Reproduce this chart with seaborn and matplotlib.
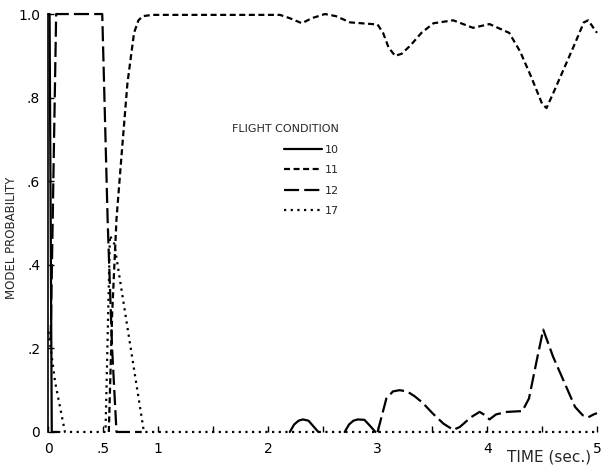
import numpy as np
import pandas as pd
import matplotlib
matplotlib.use("Agg")
import matplotlib.pyplot as plt
import seaborn as sns

# model probability traces (time in sec.)
t10 = [0.0, 0.01, 0.03, 0.1]
p10 = [1.0, 1.0, 0.0, 0.0]
t10_b1 = [2.2, 2.24, 2.28, 2.32, 2.37, 2.42, 2.46]
p10_b1 = [0.0, 0.018, 0.027, 0.03, 0.027, 0.012, 0.0]
t10_b2 = [2.7, 2.74, 2.78, 2.82, 2.88, 2.93, 2.98]
p10_b2 = [0.0, 0.018, 0.027, 0.03, 0.029, 0.015, 0.0]

t11 = [0.55, 0.58, 0.62, 0.67, 0.72, 0.78, 0.82, 0.86, 0.95, 1.2, 1.6, 2.0, 2.11,
       2.2, 2.31, 2.4, 2.52, 2.62, 2.75, 3.0, 3.05, 3.1, 3.16, 3.22, 3.3, 3.4, 3.51,
       3.69, 3.87, 4.02, 4.2, 4.3, 4.4, 4.5, 4.54, 4.6, 4.7, 4.8, 4.88, 4.92, 5.0]
p11 = [0.0, 0.28, 0.51, 0.675, 0.835, 0.955, 0.985, 0.995, 0.998, 0.998, 0.998,
       0.998, 0.998, 0.99, 0.978, 0.99, 1.0, 0.995, 0.98, 0.975, 0.955, 0.92, 0.90,
       0.905, 0.925, 0.955, 0.978, 0.985, 0.967, 0.976, 0.955, 0.91, 0.85, 0.785,
       0.775, 0.81, 0.87, 0.93, 0.98, 0.985, 0.955]

t12 = [0.02, 0.07, 0.3, 0.49, 0.54, 0.58, 0.62, 0.85]
p12 = [0.22, 1.0, 1.0, 1.0, 0.5, 0.2, 0.0, 0.0]
t12_b = [3.0, 3.04, 3.08, 3.14, 3.2, 3.27, 3.34, 3.41, 3.5, 3.6, 3.69, 3.75, 3.85,
         3.93, 3.98, 4.02, 4.08, 4.18, 4.32, 4.38, 4.45, 4.51, 4.6, 4.7, 4.8, 4.87,
         4.92, 4.97, 5.0]
p12_b = [0.0, 0.04, 0.08, 0.097, 0.10, 0.097, 0.085, 0.07, 0.045, 0.02, 0.005,
         0.012, 0.035, 0.048, 0.04, 0.03, 0.042, 0.048, 0.05, 0.08, 0.17, 0.245,
         0.18, 0.12, 0.06, 0.04, 0.035, 0.042, 0.045]

t17 = [0.0, 0.06, 0.15, 0.52, 0.56, 0.6, 0.87, 5.0]
p17 = [0.24, 0.12, 0.0, 0.0, 0.47, 0.45, 0.0, 0.0]

x_ticks = [0, 0.5, 1, 1.5, 2, 2.5, 3, 3.5, 4, 4.5, 5]
x_labels = ["0", ".5", "1", "", "2", "", "3", "", "4", "", "5"]
y_ticks = [0, 0.2, 0.4, 0.6, 0.8, 1.0]
y_labels = ["0", ".2", ".4", ".6", ".8", "1.0"]


def segment(t, p, model, seg):
    return pd.DataFrame({"t": t, "p": p, "model": model, "seg": seg})


df = pd.concat([
    segment(t10, p10, "10", "10a"),
    segment(t10_b1, p10_b1, "10", "10b"),
    segment(t10_b2, p10_b2, "10", "10c"),
    segment(t11, p11, "11", "11a"),
    segment(t12, p12, "12", "12a"),
    segment(t12_b, p12_b, "12", "12b"),
    segment(t17, p17, "17", "17a"),
], ignore_index=True)

sns.set_style("ticks")
plt.rcParams["font.family"] = ["DejaVu Sans"]

fig = plt.figure(figsize=(6.03, 4.68), dpi=100)
ax = fig.add_axes([0.0804, 0.077, 0.9096, 0.893])

dashes = {"10": "", "11": (2.7, 1.6), "12": (6.8, 2.3), "17": (1.0, 2.0)}
sns.lineplot(data=df, x="t", y="p", hue="model", style="model", units="seg",
             estimator=None, sort=False, palette=["black"] * 4, dashes=dashes,
             linewidth=1.6, ax=ax, legend=True)
for line in ax.lines:
    line.set_clip_on(False)

ax.set_xlim(0, 5)
ax.set_ylim(0, 1.0)
ax.set_xticks(x_ticks)
ax.set_xticklabels(x_labels)
ax.set_yticks(y_ticks)
ax.set_yticklabels(y_labels)
ax.tick_params(direction="in", length=4.5, width=1, labelsize=10, colors="black")
ax.tick_params(axis="x", pad=7)
ax.tick_params(axis="y", pad=6)
for s in ["top", "right", "bottom"]:
    ax.spines[s].set_visible(False)
ax.spines["left"].set_linewidth(1.2)
ax.spines["left"].set_color("black")
ax.set_xlabel("")
ax.set_ylabel("")

handles, labels = ax.get_legend_handles_labels()
ax.legend(handles, labels, title="FLIGHT CONDITION", loc="upper left",
          bbox_to_anchor=(0.325, 0.75), frameon=False, fontsize=8,
          title_fontsize=8, handlelength=3.4, handletextpad=0.3,
          labelspacing=0.95, borderpad=0, alignment="right")

fig.text(12 / 603, (468 - 238) / 468, "MODEL PROBABILITY", rotation=90,
         ha="center", va="center", fontsize=8.5)
fig.text(591 / 603, 3 / 468, "TIME (sec.)", ha="right", va="bottom",
         fontsize=11)

fig.savefig("out.png", dpi=100)
